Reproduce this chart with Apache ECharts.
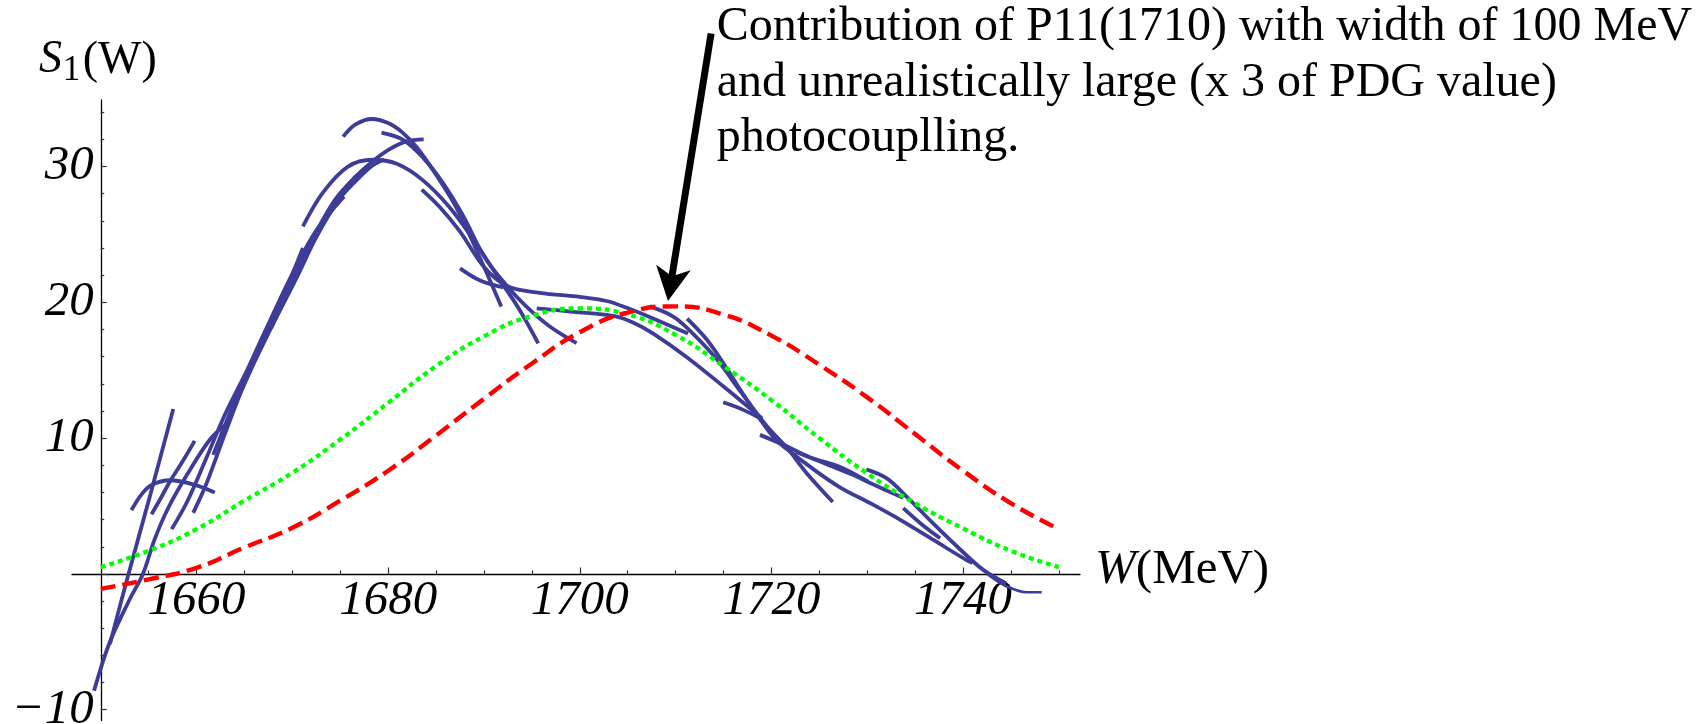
<!DOCTYPE html>
<html><head><meta charset="utf-8">
<script src="https://cdn.jsdelivr.net/npm/echarts@6/dist/echarts.min.js"></script>
<style>html,body{margin:0;padding:0;background:#fff}#c{width:1705px;height:724px}</style>
</head><body><div id="c"></div>
<script>
// ---- axes ----
const xRange = [1647, 1752.2];
const yRange = [-10.8, 34.9];
const xMajorTicks = [1660, 1680, 1700, 1720, 1740];
const xMinorTicks = [1655, 1665, 1670, 1675, 1685, 1690, 1695, 1705, 1710, 1715, 1725, 1730, 1735, 1745, 1750];
const yMajorTicks = [-10, 0, 10, 20, 30];
const yMinorTicks = [-8, -6, -4, -2, 2, 4, 6, 8, 12, 14, 16, 18, 22, 24, 26, 28, 32, 34];
const yLabelValues = [-10, 10, 20, 30];

// ---- P11(1710) contribution curves ----
const curveW = [1650,1655,1660,1665,1670,1675,1680,1685,1690,1695,1700,1705,1710,1715,1720,1725,1730,1735,1740,1745,1750];
const greenValues = [0.5,1.7,3.3,5.4,7.45,9.9,12.6,15.3,17.5,19.0,19.55,19.1,17.6,15.3,12.8,10.0,7.4,5.2,3.35,1.7,0.5];
const redValues = [-1.1,-0.4,0.45,1.95,3.4,5.4,7.6,10.2,12.9,15.5,17.8,19.25,19.7,19.1,17.55,15.4,13.0,10.3,7.6,5.2,3.3];

// ---- blue local fits: [W, S1] ----
const seg01 = [[1649.3,-8.6],[1650.9,-5.1],[1653.0,-1.9],[1654.4,0.0],[1655.6,2.5],[1657.0,4.8],[1659.0,7.3],[1661.4,9.9],[1663.2,11.1]];
const seg02 = [[1650.96,-5.16],[1652.9,0.0],[1655.2,5.9],[1657.57,12.15]];
const seg03 = [[1653.2,4.7],[1654.3,5.9],[1655.3,6.55],[1657.2,6.9],[1659.65,6.6],[1661.9,6.0]];
const seg04 = [[1655.3,4.4],[1656.2,5.5],[1657.3,6.9],[1658.6,8.35],[1659.8,9.8]];
const seg05 = [[1657.4,3.3],[1659.0,5.3],[1661.0,8.5],[1663.0,11.8],[1665.0,14.6],[1667.7,18.5],[1670.5,22.3],[1672.5,25.2],[1674.5,27.6],[1676.5,29.2],[1678.4,30.4],[1680.2,31.3],[1681.9,31.85],[1683.7,32.0]];
const seg06 = [[1659.65,4.5],[1661.0,6.6],[1663.0,10.4],[1665.0,14.0],[1667.7,18.0],[1670.5,21.9],[1672.5,24.8],[1674.8,27.5],[1676.7,29.0],[1678.4,30.1],[1679.6,30.5]];
const seg07 = [[1661.74,8.77],[1663.5,11.9],[1665.5,15.3],[1667.7,18.7],[1670.0,22.1],[1672.5,25.3],[1675.4,27.8]];
const seg08 = [[1667.8,18.1],[1669.5,21.2],[1671.1,24.0]];
const seg09 = [[1663.83,12.2],[1665.8,15.3],[1667.6,18.1]];
const seg10 = [[1675.3,32.2],[1676.6,33.1],[1678.3,33.5],[1680.0,33.2],[1681.5,32.5],[1683.0,31.4],[1685.0,29.4],[1687.1,27.0],[1689.5,23.4],[1691.8,19.7]];
const seg11 = [[1671.1,25.6],[1673.2,28.1],[1675.8,30.0],[1678.4,30.5],[1680.9,30.2],[1683.6,29.0],[1686.4,27.0],[1688.9,24.6],[1691.7,21.6],[1693.75,19.4],[1695.66,16.98]];
const seg12 = [[1679.3,32.5],[1681.6,31.95],[1683.7,30.6],[1685.7,28.8],[1687.8,26.4],[1690.0,23.4],[1692.4,21.2],[1694.4,19.7],[1696.9,18.2],[1699.66,17.0]];
const seg13 = [[1683.5,28.3],[1685.4,27.0],[1687.5,25.2],[1690.0,22.6],[1692.4,21.2],[1695.8,20.7],[1700.0,20.4],[1702.8,20.1],[1704.9,19.6],[1707.7,18.8],[1711.3,17.7]];
const seg14 = [[1687.5,22.5],[1689.6,21.6],[1692.0,21.1]];
const seg15 = [[1695.5,19.56],[1699.3,19.3],[1703.5,19.0],[1705.6,18.5],[1707.66,17.7],[1711.1,16.0],[1715.0,13.8],[1719.0,11.46]];
const seg16 = [[1707.3,19.7],[1709.75,18.95],[1711.8,17.7],[1714.3,15.8],[1716.7,13.5],[1719.5,10.9],[1721.6,9.3],[1723.7,7.4],[1726.4,5.3]];
const seg17 = [[1711.2,18.8],[1713.2,17.3],[1715.0,15.5],[1716.9,13.4],[1718.8,11.4],[1720.3,10.0],[1721.6,9.2],[1724.4,7.7],[1727.1,6.4],[1730.6,5.1],[1733.4,4.0],[1736.9,2.5],[1740.4,1.0],[1741.0,0.8]];
const seg18 = [[1714.96,12.64],[1717.0,12.1],[1718.96,11.4]];
const seg19 = [[1718.8,10.24],[1721.6,9.4],[1724.0,8.6],[1727.1,7.9],[1730.1,6.8]];
const seg20 = [[1722.5,9.0],[1726.4,7.9],[1728.5,7.3],[1730.6,6.6],[1733.75,5.6]];
const seg21 = [[1729.9,7.7],[1732.0,7.05],[1734.1,5.7],[1736.9,3.7],[1739.7,1.8],[1742.1,0.3],[1744.5,-0.7]];
const seg22 = [[1733.75,4.84],[1735.6,3.7],[1737.6,2.63]];
const seg23 = [[1742.5,0.0],[1744.5,-0.9],[1746.6,-1.35],[1748.2,-1.35]];
const blueSegments = [seg01,seg02,seg03,seg04,seg05,seg06,seg07,seg08,seg09,seg10,seg11,seg12,seg13,seg14,seg15,seg16,seg17,seg18,seg19,seg20,seg21,seg22];
const blueThin = [seg23];

// ---- annotation ----
const arrowTail = [1713.7, 39.8];
const arrowTip = [1709.2, 20.1];
const noteLines = ['Contribution of P11(1710) with width of 100 MeV', 'and unrealistically large (x 3 of PDG value)', 'photocouplling.'];

const FONT = '"Liberation Serif", "Times New Roman", serif';
const BLUE = '#3d3d99';
const GRID_TOP = 100, GRID_H = 620.6;
const chart = echarts.init(document.getElementById('c'), null, {renderer: 'canvas', width: 1705, height: 724});

const series = [];
blueSegments.forEach(s => series.push({type: 'line', data: s, symbol: 'none', smooth: 0.35, silent: true, z: 2,
  lineStyle: {color: BLUE, width: 3.8}}));
blueThin.forEach(s => series.push({type: 'line', data: s, symbol: 'none', smooth: 0.35, silent: true, z: 2,
  lineStyle: {color: BLUE, width: 2.7}}));
series.push({type: 'line', data: curveW.map((w, i) => [w, greenValues[i]]), symbol: 'none', smooth: 0.5, silent: true, z: 3,
  lineStyle: {color: '#00ff00', width: 4.3, type: [5, 4], cap: 'butt'}});
series.push({type: 'line', data: curveW.map((w, i) => [w, redValues[i]]), symbol: 'none', smooth: 0.5, silent: true, z: 4,
  lineStyle: {color: '#ff0000', width: 4.4, type: [15, 7], cap: 'butt'}});

const axisLineStyle = {color: '#000', width: 1.3};
const tickStyle = {color: '#333', width: 1.2};
const labelFont = {color: '#000', fontFamily: FONT, fontStyle: 'italic', fontSize: 49};
// distance from the grid bottom up to the zero line (labels of an on-zero axis stay at the grid edge)
const zeroLift = GRID_H * (0 - yRange[0]) / (yRange[1] - yRange[0]);

chart.setOption({
  animation: false,
  backgroundColor: '#fff',
  grid: {left: 72, top: GRID_TOP, width: 1008, height: GRID_H, containLabel: false, outerBoundsMode: 'none'},
  xAxis: [
    {type: 'value', min: xRange[0], max: xRange[1], position: 'bottom',
      axisLine: {show: true, onZero: true, onZeroAxisIndex: 0, lineStyle: axisLineStyle},
      axisTick: {show: true, inside: true, length: 6.5, customValues: xMajorTicks, lineStyle: tickStyle},
      axisLabel: Object.assign({customValues: xMajorTicks, margin: 2.3 - zeroLift, formatter: v => String(v)}, labelFont),
      splitLine: {show: false},
      name: '{w|W}{m|(MeV)}', nameLocation: 'end', nameGap: 15,
      nameTextStyle: {padding: [0, 0, 8, 0], rich: {
        w: {fontFamily: FONT, fontStyle: 'italic', fontSize: 49, color: '#000'},
        m: {fontFamily: FONT, fontSize: 49, color: '#000'}}}},
    {type: 'value', min: xRange[0], max: xRange[1], position: 'bottom',
      axisLine: {show: false, onZero: true, onZeroAxisIndex: 0},
      axisTick: {show: true, inside: true, length: 3.5, customValues: xMinorTicks, lineStyle: tickStyle},
      axisLabel: {show: false}, splitLine: {show: false}}
  ],
  yAxis: [
    {type: 'value', min: yRange[0], max: yRange[1], position: 'left', offset: -28.75,
      axisLine: {show: true, onZero: false, lineStyle: axisLineStyle},
      axisTick: {show: true, inside: true, length: 6, customValues: yMajorTicks, lineStyle: tickStyle},
      axisLabel: Object.assign({customValues: yLabelValues, margin: 7, padding: [0, 0, 6, 0],
        formatter: v => (v < 0 ? '\u2212' + Math.abs(v) : String(v))}, labelFont),
      splitLine: {show: false}},
    {type: 'value', min: yRange[0], max: yRange[1], position: 'left', offset: -28.75,
      axisLine: {show: false, onZero: false},
      axisTick: {show: true, inside: true, length: 3.5, customValues: yMinorTicks, lineStyle: tickStyle},
      axisLabel: {show: false}, splitLine: {show: false}}
  ],
  series: series
});

// arrow + texts
const pTail = chart.convertToPixel({seriesIndex: 0}, arrowTail);
const pTip = chart.convertToPixel({seriesIndex: 0}, arrowTip);
const ddx = pTip[0] - pTail[0], ddy = pTip[1] - pTail[1], L = Math.hypot(ddx, ddy);
const ux = ddx / L, uy = ddy / L, nx = -uy, ny = ux;
const headLen = 34, halfW = 17.5, notch = 25;
const wing1 = [pTip[0] - headLen * ux + halfW * nx, pTip[1] - headLen * uy + halfW * ny];
const wing2 = [pTip[0] - headLen * ux - halfW * nx, pTip[1] - headLen * uy - halfW * ny];
const back = [pTip[0] - notch * ux, pTip[1] - notch * uy];

function txt(text, x, y, font) {
  return {type: 'text', silent: true, z: 10, style: {text: text, x: x, y: y, font: font, fill: '#000',
    align: 'left', textAlign: 'left', verticalAlign: 'middle', textVerticalAlign: 'middle'}};
}
const noteFont = '48px ' + FONT;
chart.setOption({
  graphic: [
    {type: 'line', silent: true, z: 10, shape: {x1: pTail[0], y1: pTail[1], x2: back[0], y2: back[1]},
      style: {stroke: '#000', lineWidth: 7}},
    {type: 'polygon', silent: true, z: 10, shape: {points: [pTip, wing1, back, wing2]}, style: {fill: '#000'}},
    txt(noteLines[0], 716.7, 27.1, noteFont),
    txt(noteLines[1], 716.7, 83.1, noteFont),
    txt(noteLines[2], 716.7, 138.8, noteFont),
    txt('S', 39, 60, 'italic 46px ' + FONT),
    txt('1', 62.8, 71.2, '35px ' + FONT),
    txt('(W)', 82.8, 61.4, '46px ' + FONT)
  ]
});
</script></body></html>
